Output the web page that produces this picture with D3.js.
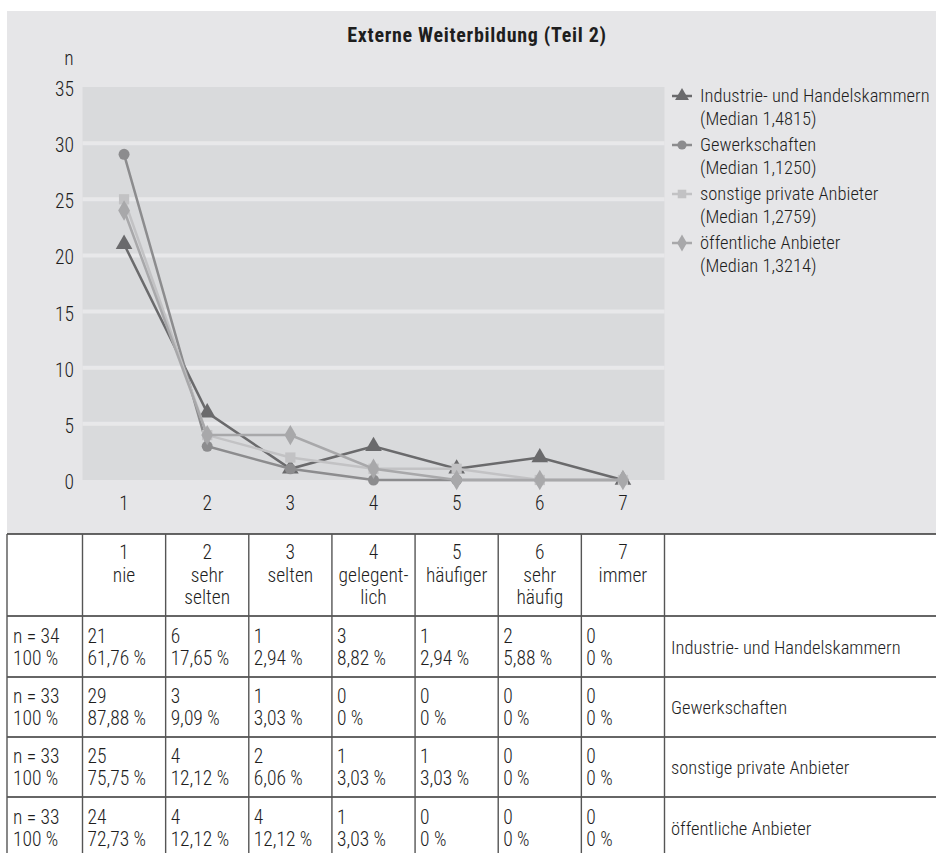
<!DOCTYPE html>
<html>
<head>
<meta charset="utf-8">
<script src="https://cdn.jsdelivr.net/npm/d3@7"></script>
<style>
  body { margin: 0; background: #fff; }
  text { font-family: "Liberation Sans Narrow", "Roboto Condensed", Roboto, sans-serif; fill: #1e1e1e; font-weight: 300; }
</style>
</head>
<body>
<div id="chart"></div>
<script>
// data
var steps = [1, 2, 3, 4, 5, 6, 7];
var stepNames = ["nie", "sehr\nselten", "selten", "gelegent-\nlich", "häufiger", "sehr\nhäufig", "immer"];
var seriesNames = ["Industrie- und Handelskammern", "Gewerkschaften", "sonstige private Anbieter", "öffentliche Anbieter"];
var medians = ["1,4815", "1,1250", "1,2759", "1,3214"];
var totals = ["n = 34", "n = 33", "n = 33", "n = 33"];
var ihkCounts = [21, 6, 1, 3, 1, 2, 0];
var gewCounts = [29, 3, 1, 0, 0, 0, 0];
var sonstCounts = [25, 4, 2, 1, 1, 0, 0];
var oeffCounts = [24, 4, 4, 1, 0, 0, 0];
var ihkPct = ["61,76 %", "17,65 %", "2,94 %", "8,82 %", "2,94 %", "5,88 %", "0 %"];
var gewPct = ["87,88 %", "9,09 %", "3,03 %", "0 %", "0 %", "0 %", "0 %"];
var sonstPct = ["75,75 %", "12,12 %", "6,06 %", "3,03 %", "3,03 %", "0 %", "0 %"];
var oeffPct = ["72,73 %", "12,12 %", "12,12 %", "3,03 %", "0 %", "0 %", "0 %"];
var yTicks = [0, 5, 10, 15, 20, 25, 30, 35];

var counts = [ihkCounts, gewCounts, sonstCounts, oeffCounts];
var pcts = [ihkPct, gewPct, sonstPct, oeffPct];
var colors = ["#6a6a6c", "#8c8c8e", "#c2c2c4", "#a8a8aa"];
var symbols = [d3.symbolTriangle, d3.symbolCircle, d3.symbolSquare, d3.symbolDiamond];
var symSizes = [120, 95, 105, 120];

var W = 936, H = 853;
var svg = d3.select("#chart").append("svg")
    .attr("width", W)
    .attr("height", H);

// grey panel
svg.append("rect")
    .attr("x", 7).attr("y", 11)
    .attr("width", W - 7).attr("height", 523)
    .attr("fill", "#e6e6e8");

var x = d3.scaleBand().domain(steps).range([82.5, 664.5]);
var y = d3.scaleLinear().domain([0, 35]).range([480, 87]);

// plot area
svg.append("rect")
    .attr("x", x.range()[0]).attr("y", y(35))
    .attr("width", x.range()[1] - x.range()[0]).attr("height", y(0) - y(35))
    .attr("fill", "#d9dadc");

// grid lines
svg.append("g").selectAll("line")
  .data(yTicks.filter(function(d) { return d > 0 && d < 35; }))
  .enter().append("line")
    .attr("x1", x.range()[0]).attr("x2", x.range()[1])
    .attr("y1", function(d) { return y(d); })
    .attr("y2", function(d) { return y(d); })
    .attr("stroke", "#e8e8ea")
    .attr("stroke-width", 4);

// y axis labels
svg.append("g").selectAll("text")
  .data(yTicks)
  .enter().append("text")
    .attr("x", 74)
    .attr("y", function(d) { return y(d) + 9; })
    .attr("text-anchor", "end")
    .style("font-size", "19.5px")
    .text(function(d) { return d; });

svg.append("text")
    .attr("x", 69).attr("y", 65)
    .attr("text-anchor", "middle")
    .style("font-size", "19.5px")
    .text("n");

// x axis labels
svg.append("g").selectAll("text")
  .data(steps)
  .enter().append("text")
    .attr("x", function(d) { return x(d) + x.bandwidth() / 2; })
    .attr("y", 510)
    .attr("text-anchor", "middle")
    .style("font-size", "19.5px")
    .text(function(d) { return d; });

// title
svg.append("text")
    .attr("x", 477).attr("y", 42)
    .attr("text-anchor", "middle")
    .style("font-size", "20px")
    .style("font-weight", "bold")
    .style("letter-spacing", "0.7px")
    .text("Externe Weiterbildung (Teil 2)");

// lines + markers
var line = d3.line()
    .x(function(d, i) { return x(steps[i]) + x.bandwidth() / 2; })
    .y(function(d) { return y(d); });

counts.forEach(function(series, s) {
  var g = svg.append("g");
  g.append("path")
    .attr("d", line(series))
    .attr("fill", "none")
    .attr("stroke", colors[s])
    .attr("stroke-width", 2.5);
  g.selectAll("path.m")
    .data(series)
    .enter().append("path")
      .attr("class", "m")
      .attr("d", d3.symbol().type(symbols[s]).size(symSizes[s]))
      .attr("transform", function(d, i) { return "translate(" + (x(steps[i]) + x.bandwidth() / 2) + "," + y(d) + ")"; })
      .attr("fill", colors[s]);
});

// legend
seriesNames.forEach(function(name, s) {
  var ly = 96 + s * 49;
  var lg = svg.append("g");
  lg.append("line")
    .attr("x1", 672).attr("x2", 692)
    .attr("y1", ly).attr("y2", ly)
    .attr("stroke", colors[s]).attr("stroke-width", 2.5);
  lg.append("path")
    .attr("d", d3.symbol().type(symbols[s]).size(symSizes[s] * 0.7))
    .attr("transform", "translate(682," + ly + ")")
    .attr("fill", colors[s]);
  lg.append("text")
    .attr("x", 700).attr("y", ly + 6)
    .style("font-size", "18.5px")
    .text(name);
  lg.append("text")
    .attr("x", 700).attr("y", ly + 29)
    .style("font-size", "18.5px")
    .text("(Median " + medians[s] + ")");
});

// table
var colEdges = [7].concat(steps.map(function(d) { return x(d); }), [x.range()[1], W]);
var rowEdges = [534, 616, 677, 737, 797, 858];
var table = svg.append("g");
var fs = "19.5px";

// header
steps.forEach(function(d, i) {
  var cx = x(d) + x.bandwidth() / 2;
  var lines = [String(d)].concat(stepNames[i].split("\n"));
  lines.forEach(function(t, k) {
    table.append("text")
      .attr("x", cx).attr("y", 559 + k * 22.5)
      .attr("text-anchor", "middle")
      .style("font-size", fs)
      .text(t);
  });
});

// body rows
counts.forEach(function(series, r) {
  var top = rowEdges[r + 1];
  var rowH = rowEdges[r + 2] - top;
  var ty = top + rowH / 2;
  table.append("text").attr("x", 13).attr("y", ty - 4).style("font-size", fs).text(totals[r]);
  table.append("text").attr("x", 13).attr("y", ty + 18).style("font-size", fs).text("100 %");
  series.forEach(function(v, i) {
    var cx = x(steps[i]) + 5;
    table.append("text").attr("x", cx).attr("y", ty - 4).style("font-size", fs).text(v);
    table.append("text").attr("x", cx).attr("y", ty + 18).style("font-size", fs).text(pcts[r][i]);
  });
  table.append("text").attr("x", 671).attr("y", ty + 7).style("font-size", "18.5px").text(seriesNames[r]);
});

// table grid
table.selectAll("line.h")
  .data(rowEdges.slice(0, 5))
  .enter().append("line")
    .attr("x1", 7).attr("x2", W)
    .attr("y1", function(d) { return d; }).attr("y2", function(d) { return d; })
    .attr("stroke", "#333").attr("stroke-width", 1.6);
table.selectAll("line.v")
  .data(colEdges.slice(0, 9))
  .enter().append("line")
    .attr("x1", function(d) { return d; }).attr("x2", function(d) { return d; })
    .attr("y1", rowEdges[0]).attr("y2", H)
    .attr("stroke", "#555").attr("stroke-width", 1.4);
</script>
</body>
</html>
